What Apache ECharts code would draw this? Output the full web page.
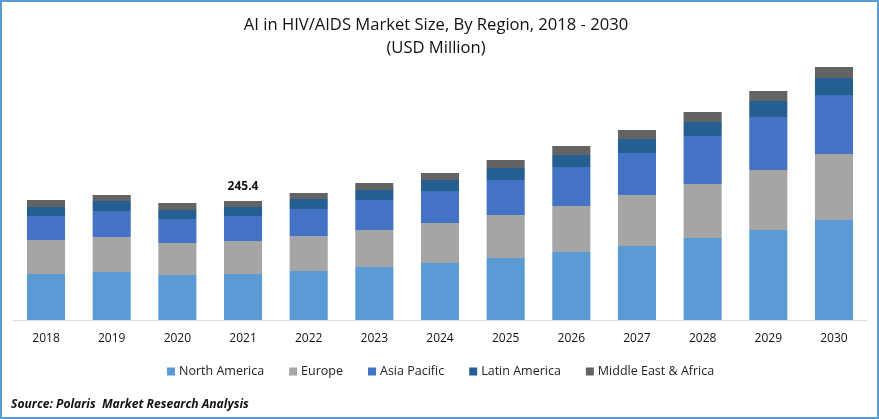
<!DOCTYPE html>
<html>
<head>
<meta charset="utf-8">
<title>AI in HIV/AIDS Market Size</title>
<script src="https://cdn.jsdelivr.net/npm/echarts@6/dist/echarts.min.js"></script>
<style>
  html, body { margin: 0; padding: 0; background: #fff; }
  #main { width: 879px; height: 419px; }
</style>
</head>
<body>
<div id="main"></div>
<script>
// values (USD million)
var years = ['2018', '2019', '2020', '2021', '2022', '2023', '2024', '2025', '2026', '2027', '2028', '2029', '2030'];
var northAmerica = [94.9, 99.0, 92.8, 94.9, 101.0, 109.3, 117.5, 127.8, 140.2, 152.6, 169.1, 185.6, 206.2];
var europe = [70.1, 72.2, 66.0, 68.0, 72.2, 76.3, 82.5, 88.7, 94.9, 105.2, 111.3, 123.7, 136.1];
var asiaPacific = [49.5, 53.6, 49.5, 51.5, 55.7, 61.9, 66.0, 72.2, 80.4, 86.6, 99.0, 109.3, 121.7];
var latinAmerica = [18.6, 20.6, 18.6, 18.6, 20.6, 20.6, 22.7, 24.7, 24.7, 28.9, 28.9, 33.0, 35.1];
var middleEastAfrica = [14.4, 12.4, 14.4, 12.4, 12.4, 14.4, 14.4, 16.5, 18.6, 18.6, 20.6, 20.6, 22.7];
var labelYear = '2021';
var labelText = '245.4';

var fontName = '"Open Sans"';

var chart = echarts.init(document.getElementById('main'));

function barSeries(name, values, color) {
    return {
        name: name,
        type: 'bar',
        stack: 'total',
        barWidth: '58%',
        itemStyle: { color: color },
        data: values
    };
}

var topSeries = barSeries('Middle East & Africa', middleEastAfrica, '#636363');
// only one total is printed in the original
topSeries.data = middleEastAfrica.map(function (v, i) {
    if (years[i] !== labelYear) return v;
    return {
        value: v,
        label: {
            show: true,
            position: 'top',
            distance: 8,
            formatter: labelText,
            fontFamily: fontName,
            fontSize: 12,
            fontWeight: 'bold',
            color: '#111'
        }
    };
});

var option = {
    animation: false,
    backgroundColor: '#fff',
    textStyle: { fontFamily: fontName },
    title: [{
        text: 'AI in HIV/AIDS Market Size, By Region, 2018 - 2030\n(USD Million)',
        left: 431,
        top: 9,
        textAlign: 'center',
        textStyle: {
            fontFamily: fontName,
            fontSize: 16.6,
            fontWeight: 'normal',
            color: '#111',
            lineHeight: 23
        }
    }, {
        text: 'Source: Polaris  Market Research Analysis',
        left: 6,
        top: 394,
        textStyle: {
            fontFamily: fontName,
            fontSize: 12.1,
            fontWeight: 'bold',
            fontStyle: 'italic',
            color: '#111'
        }
    }],
    legend: {
        left: 162,
        top: 360,
        itemWidth: 8,
        itemHeight: 8,
        itemGap: 25,
        icon: 'rect',
        textStyle: { fontFamily: fontName, fontSize: 12.5, color: '#222', padding: [0, 0, 0, -1] }
    },
    grid: { left: 13.2, right: 12.2, top: 20, height: 300 },
    xAxis: {
        type: 'category',
        data: years,
        axisTick: { show: false },
        axisLine: { lineStyle: { color: '#d9d9d9', width: 1 } },
        axisLabel: { margin: 13, fontFamily: fontName, fontSize: 12, color: '#111' }
    },
    yAxis: { type: 'value', min: 0, max: 618.6, show: false },
    series: [
        barSeries('North America', northAmerica, '#5B9BD5'),
        barSeries('Europe', europe, '#A5A5A5'),
        barSeries('Asia Pacific', asiaPacific, '#4472C4'),
        barSeries('Latin America', latinAmerica, '#255E91'),
        topSeries
    ],
    graphic: [{
        type: 'rect',
        silent: true,
        shape: { x: 1, y: 1, width: 877, height: 417 },
        style: { fill: 'none', stroke: '#5B9BD5', lineWidth: 2 }
    }]
};

chart.setOption(option);
</script>
</body>
</html>
